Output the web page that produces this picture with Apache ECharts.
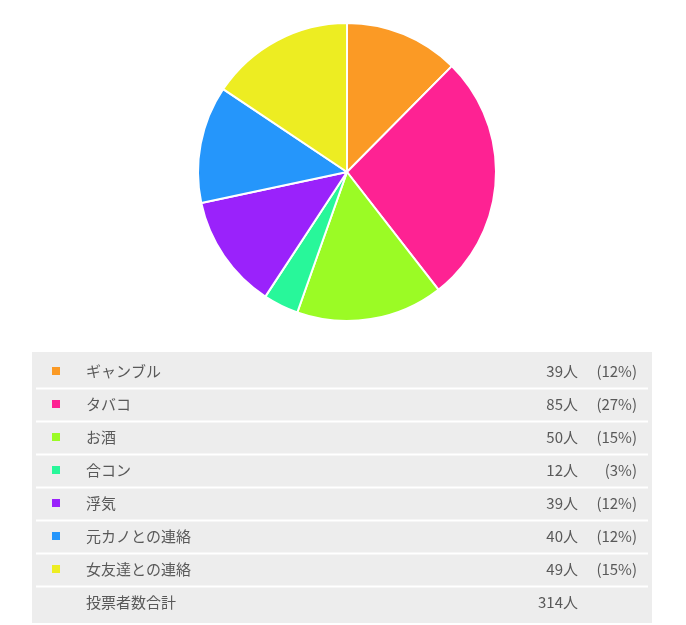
<!DOCTYPE html>
<html>
<head>
<meta charset="utf-8">
<script src="https://cdn.jsdelivr.net/npm/echarts@6/dist/echarts.min.js"></script>
<style>
html,body{margin:0;padding:0;background:#fff;}
#main{width:686px;height:625px;}
</style>
</head>
<body>
<div id="main"></div>
<script>
var categories = ['ギャンブル', 'タバコ', 'お酒', '合コン', '浮気', '元カノとの連絡', '女友達との連絡'];
var votes = [39, 85, 50, 12, 39, 40, 49];
var percentLabels = ['(12%)', '(27%)', '(15%)', '(3%)', '(12%)', '(12%)', '(15%)'];
var colors = ['#FB9A25', '#FE2293', '#9BFB25', '#28F79A', '#9A22FB', '#2596FB', '#EDED22'];
var totalLabel = '投票者数合計';
var totalValue = '314人';

var chart = echarts.init(document.getElementById('main'), null, {renderer: 'canvas'});

var font = '"Noto Sans CJK JP", "Noto Sans", sans-serif';
var textColor = '#595959';
var fontSpec = '15px ' + font;
var tableLeft = 32, tableRight = 652, tableTop = 352, tableBottom = 623;
var rowStart = 371, rowStep = 33;

var graphics = [];
graphics.push({
  type: 'rect', shape: {x: tableLeft, y: tableTop, width: tableRight - tableLeft, height: tableBottom - tableTop},
  style: {fill: '#EDEDED'}, silent: true
});
for (var i = 0; i < categories.length; i++) {
  graphics.push({
    type: 'rect', shape: {x: 36, y: rowStart + 16.5 + rowStep * i, width: 612, height: 2},
    style: {fill: '#FFFFFF'}, silent: true
  });
}
categories.forEach(function (name, i) {
  var cy = rowStart + rowStep * i;
  graphics.push({
    type: 'rect', shape: {x: 52, y: cy - 4, width: 8, height: 8},
    style: {fill: colors[i]}, silent: true
  });
  graphics.push({
    type: 'text', x: 86, y: cy,
    style: {text: name, fill: textColor, font: fontSpec, verticalAlign: 'middle', align: 'left'}, silent: true
  });
  graphics.push({
    type: 'text', x: 578, y: cy,
    style: {text: votes[i] + '人', fill: textColor, font: fontSpec, verticalAlign: 'middle', align: 'right'}, silent: true
  });
  graphics.push({
    type: 'text', x: 637, y: cy,
    style: {text: percentLabels[i], fill: textColor, font: fontSpec, verticalAlign: 'middle', align: 'right'}, silent: true
  });
});
var totalY = rowStart + rowStep * categories.length;
graphics.push({
  type: 'text', x: 86, y: totalY,
  style: {text: totalLabel, fill: textColor, font: fontSpec, verticalAlign: 'middle', align: 'left'}, silent: true
});
graphics.push({
  type: 'text', x: 578, y: totalY,
  style: {text: totalValue, fill: textColor, font: fontSpec, verticalAlign: 'middle', align: 'right'}, silent: true
});

chart.setOption({
  animation: false,
  backgroundColor: '#ffffff',
  color: colors,
  series: [{
    type: 'pie',
    center: [347, 172],
    radius: [0, 149],
    startAngle: 90,
    clockwise: true,
    label: {show: false},
    labelLine: {show: false},
    itemStyle: {borderColor: '#ffffff', borderWidth: 2},
    data: categories.map(function (c, i) { return {name: c, value: votes[i]}; })
  }],
  graphic: graphics
});
</script>
</body>
</html>
